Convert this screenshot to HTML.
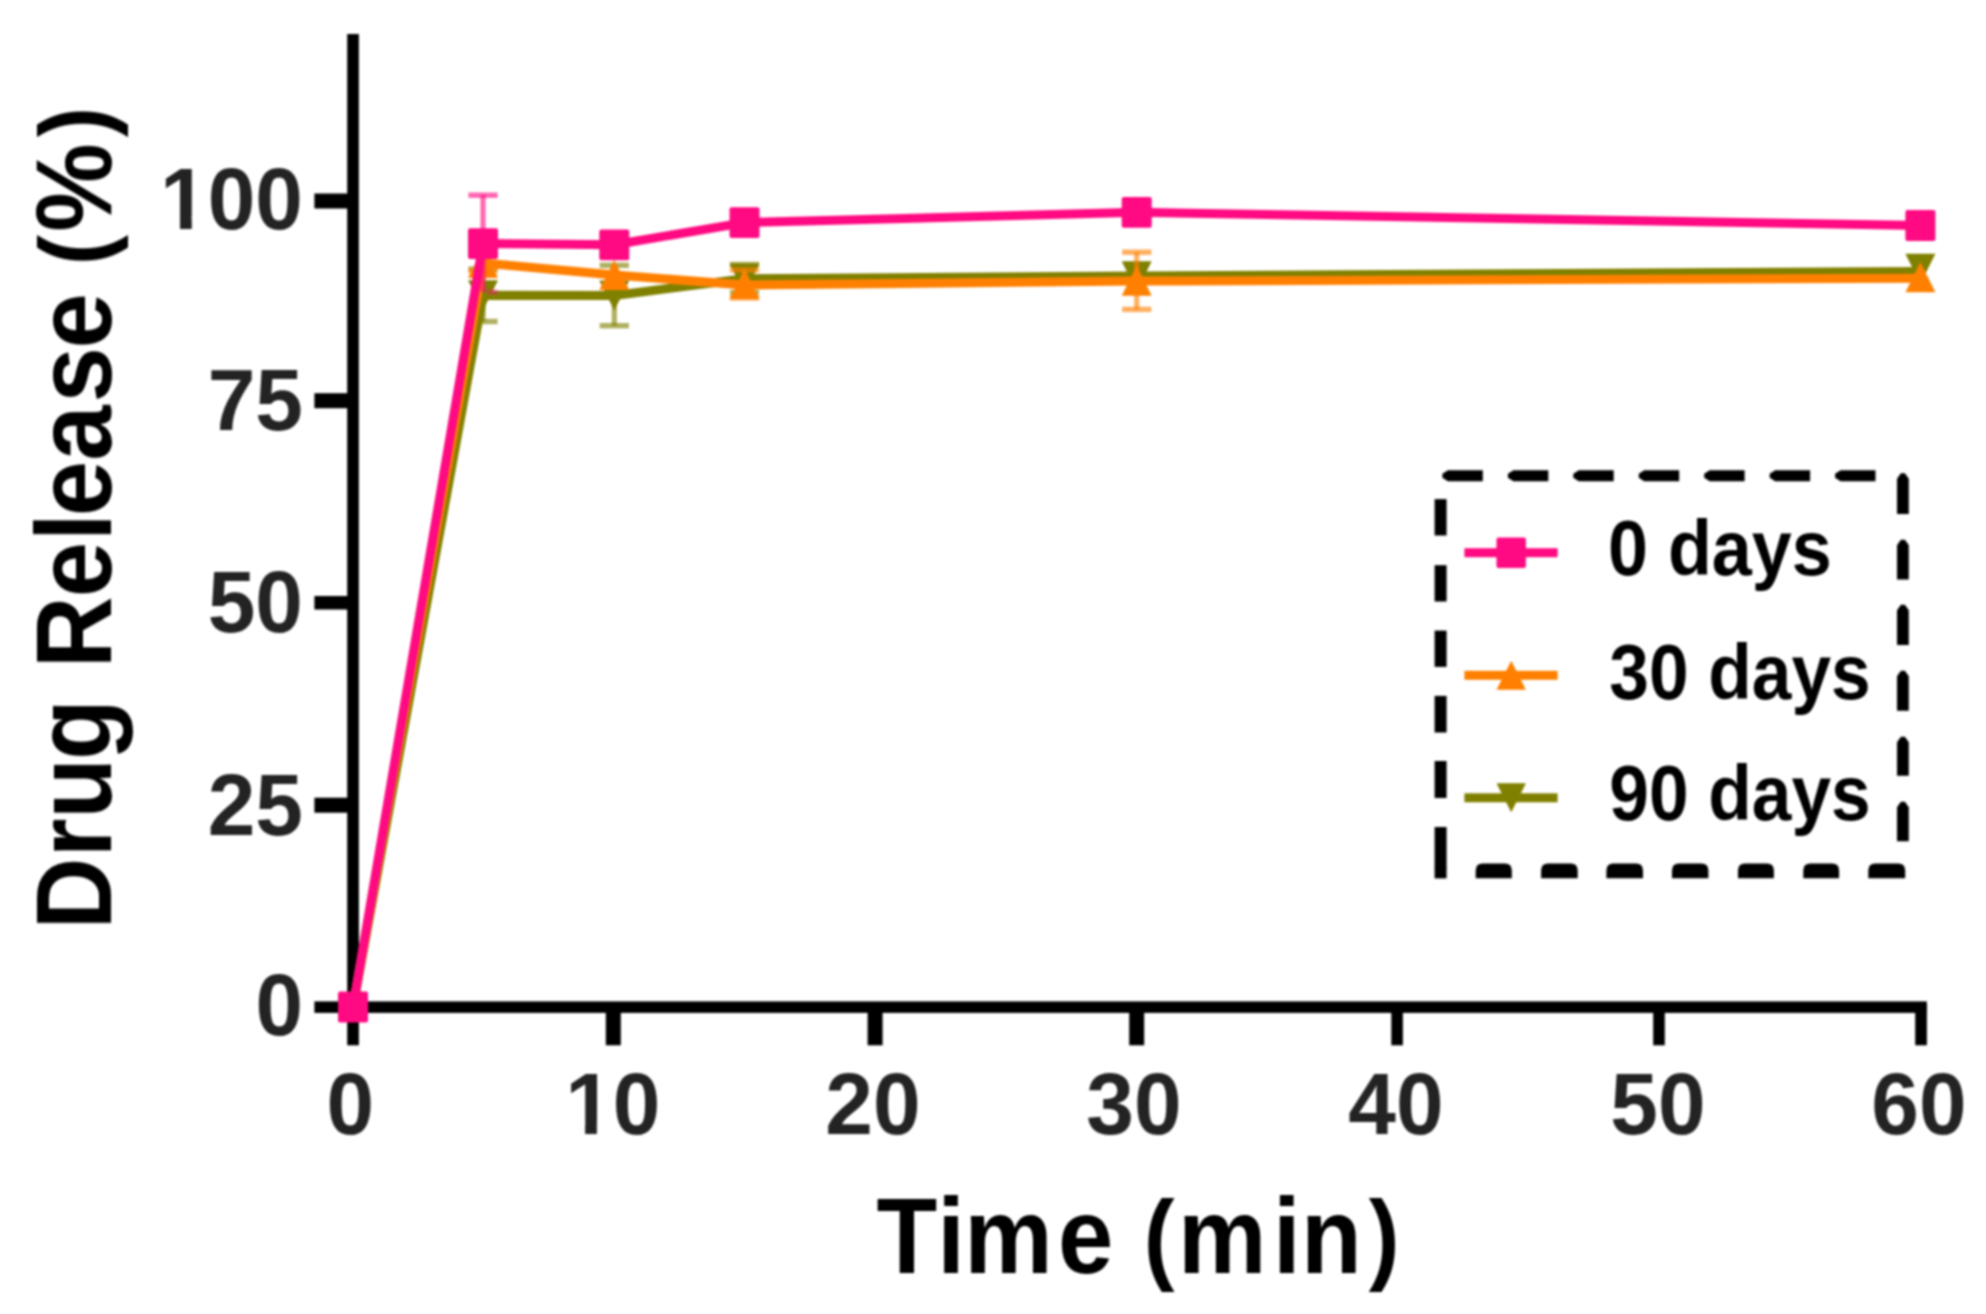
<!DOCTYPE html>
<html lang="en">
<head>
<meta charset="utf-8">
<title>Drug Release (%) vs Time (min)</title>
<style>
html,body{margin:0;padding:0;background:#fff;}
body{width:1986px;height:1314px;overflow:hidden;}
svg{display:block;}
text{font-family:"Liberation Sans",Arial,Helvetica,sans-serif;font-weight:700;}
.tick{font-size:87px;fill:#232323;}
.title{font-size:107px;fill:#000;}
.par{font-size:98px;}
.par2{font-size:99.5px;}
.leg{font-size:77px;fill:#000;}
</style>
</head>
<body>
<svg width="1986" height="1314">
<defs><filter id="soft" filterUnits="userSpaceOnUse" x="0" y="0" width="1986" height="1314" color-interpolation-filters="sRGB"><feGaussianBlur stdDeviation="1.1"/></filter></defs>
<rect x="0" y="0" width="1986" height="1314" fill="#ffffff"/>
<g filter="url(#soft)">

<g fill="#000">
<rect x="347.2" y="34" width="11.7" height="1011.3"/>
<rect x="314.4" y="1001.4" width="1612.5" height="11.5"/>
<rect x="314.4" y="193.5" width="36" height="15"/>
<rect x="314.4" y="393.2" width="36" height="15"/>
<rect x="314.4" y="596.0" width="36" height="13.5"/>
<rect x="314.4" y="797.7" width="36" height="15"/>
<rect x="605.8" y="1005" width="15" height="40.3"/>
<rect x="867.6" y="1005" width="15" height="40.3"/>
<rect x="1129.2" y="1005" width="15" height="40.3"/>
<rect x="1391.3" y="1005" width="11.6" height="40.3"/>
<rect x="1653.2" y="1005" width="11.6" height="40.3"/>
<rect x="1915.2" y="1005" width="11.7" height="40.3"/>
</g>
<g class="tick" text-anchor="end">
<text x="303" y="229.2" textLength="142.9" lengthAdjust="spacingAndGlyphs">100</text>
<text x="303" y="430.2" textLength="95.3" lengthAdjust="spacingAndGlyphs">75</text>
<text x="303" y="632.3" textLength="95.3" lengthAdjust="spacingAndGlyphs">50</text>
<text x="303" y="834.7" textLength="95.3" lengthAdjust="spacingAndGlyphs">25</text>
<text x="303" y="1034.5" textLength="47.6" lengthAdjust="spacingAndGlyphs">0</text>
</g>
<g class="tick" text-anchor="middle">
<text x="350.4" y="1133.8" textLength="47.6" lengthAdjust="spacingAndGlyphs">0</text>
<text x="612.8" y="1133.8" textLength="95.3" lengthAdjust="spacingAndGlyphs">10</text>
<text x="873" y="1133.8" textLength="95.3" lengthAdjust="spacingAndGlyphs">20</text>
<text x="1134" y="1133.8" textLength="95.3" lengthAdjust="spacingAndGlyphs">30</text>
<text x="1396" y="1133.8" textLength="95.3" lengthAdjust="spacingAndGlyphs">40</text>
<text x="1658" y="1133.8" textLength="95.3" lengthAdjust="spacingAndGlyphs">50</text>
<text x="1919" y="1133.8" textLength="95.3" lengthAdjust="spacingAndGlyphs">60</text>
</g>
<rect x="164.2" y="216.5" width="15.8" height="14.2" fill="#fff"/>
<rect x="191.8" y="216.5" width="14.7" height="14.2" fill="#fff"/>
<rect x="569.3" y="1121.1" width="15.8" height="14.2" fill="#fff"/>
<rect x="596.9" y="1121.1" width="14.7" height="14.2" fill="#fff"/>
<text class="title" transform="translate(800.0,1273) scale(0.93,1)" x="82.2 147.5 176.7 277.4 307.4 369.6 406.4 508.6 538.7 611.7">Time <tspan class="par2" dy="-2.4">(</tspan><tspan dy="2.4">min</tspan><tspan class="par2" dy="-2.4">)</tspan></text>
<text class="title" transform="translate(111,960.0) rotate(-90) scale(0.93,1)" x="32.7 110.5 151.9 215.2 245.2 313.7 390.1 450.6 477.3 536.8 599.4 657.5 687.5 747.1 783.2 884.8">Drug Release <tspan class="par" dy="-3.2">(</tspan><tspan dy="3.2">%</tspan><tspan class="par" dy="-3.2">)</tspan></text>
<g fill="#808000" stroke="none">
<rect x="480.4" y="269.1" width="5.2" height="52.4" opacity="0.62"/>
<rect x="468.4" y="266.4" width="29.2" height="5.4" opacity="0.62"/>
<rect x="468.4" y="318.8" width="29.2" height="5.4" opacity="0.62"/>
<rect x="611.7" y="265.3" width="5.2" height="60.4" opacity="0.62"/>
<rect x="599.7" y="262.6" width="29.2" height="5.4" opacity="0.62"/>
<rect x="599.7" y="323.0" width="29.2" height="5.4" opacity="0.62"/>
<rect x="741.9" y="264.5" width="5.2" height="28.0" opacity="0.62"/>
<rect x="729.9" y="261.8" width="29.2" height="5.4" opacity="0.62"/>
<rect x="729.9" y="289.8" width="29.2" height="5.4" opacity="0.62"/>
<polyline points="353.0,1007.0 483.0,295.3 614.3,295.5 744.5,278.7 1136.7,276.0 1920.4,271.4" fill="none" stroke="#808000" stroke-width="9" stroke-linejoin="round"/>
<polygon points="468.0,280.3 498.0,280.3 483.0,310.3"/>
<polygon points="599.3,280.5 629.3,280.5 614.3,310.5"/>
<polygon points="729.5,263.5 759.5,263.5 744.5,293.5"/>
<polygon points="1121.7,261.3 1151.7,261.3 1136.7,291.3"/>
<polygon points="1905.4,253.8 1935.4,253.8 1920.4,283.8"/>
</g>
<g fill="#ff8000" stroke="none">
<rect x="480.4" y="255.0" width="5.2" height="16.0" opacity="0.62"/>
<rect x="468.4" y="252.3" width="29.2" height="5.4" opacity="0.62"/>
<rect x="468.4" y="268.3" width="29.2" height="5.4" opacity="0.62"/>
<rect x="741.9" y="270.0" width="5.2" height="28.0" opacity="0.62"/>
<rect x="729.9" y="267.3" width="29.2" height="5.4" opacity="0.62"/>
<rect x="729.9" y="295.3" width="29.2" height="5.4" opacity="0.62"/>
<rect x="1134.1" y="252.2" width="5.2" height="57.2" opacity="0.62"/>
<rect x="1122.1" y="249.5" width="29.2" height="5.4" opacity="0.62"/>
<rect x="1122.1" y="306.7" width="29.2" height="5.4" opacity="0.62"/>
<polyline points="353.0,1007.0 483.0,263.0 614.3,275.0 744.5,285.0 1136.7,281.1 1920.4,278.2" fill="none" stroke="#ff8000" stroke-width="9" stroke-linejoin="round"/>
<polygon points="483.0,248.0 498.0,278.0 468.0,278.0"/>
<polygon points="614.3,260.0 629.3,290.0 599.3,290.0"/>
<polygon points="744.5,269.0 759.5,299.0 729.5,299.0"/>
<polygon points="1136.7,265.8 1151.7,295.8 1121.7,295.8"/>
<polygon points="1920.4,262.3 1935.4,292.3 1905.4,292.3"/>
</g>
<g fill="#ff0a82" stroke="none">
<rect x="480.4" y="195.2" width="5.2" height="96.8" opacity="0.62"/>
<rect x="468.4" y="192.5" width="29.2" height="5.4" opacity="0.62"/>
<rect x="487.0" y="289.3" width="10.6" height="5.4" opacity="0.4"/>
<polyline points="353.0,1007.0 483.0,243.6 614.3,244.8 744.5,222.6 1136.7,212.3 1920.4,225.5" fill="none" stroke="#ff0a82" stroke-width="9" stroke-linejoin="round"/>
<rect x="338.0" y="991.6" width="30" height="30.8" rx="2"/>
<rect x="468.0" y="228.2" width="30" height="30.8" rx="2"/>
<rect x="599.3" y="229.4" width="30" height="30.8" rx="2"/>
<rect x="729.5" y="207.2" width="30" height="30.8" rx="2"/>
<rect x="1121.7" y="196.9" width="30" height="30.8" rx="2"/>
<rect x="1905.4" y="210.1" width="30" height="30.8" rx="2"/>
</g>
<g fill="#000">
<polygon points="1442.4,473.8 1447.9,470.3 1482.8,470.3 1482.8,481.3 1447.9,481.3 1442.4,477.8"/>
<polygon points="1507.9,473.8 1513.4,470.3 1548.3,470.3 1548.3,481.3 1513.4,481.3 1507.9,477.8"/>
<polygon points="1573.3,473.8 1578.8,470.3 1613.7,470.3 1613.7,481.3 1578.8,481.3 1573.3,477.8"/>
<polygon points="1638.8,473.8 1644.2,470.3 1679.2,470.3 1679.2,481.3 1644.2,481.3 1638.8,477.8"/>
<polygon points="1704.2,473.8 1709.7,470.3 1744.6,470.3 1744.6,481.3 1709.7,481.3 1704.2,477.8"/>
<polygon points="1769.7,473.8 1775.2,470.3 1810.1,470.3 1810.1,481.3 1775.2,481.3 1769.7,477.8"/>
<polygon points="1835.1,473.8 1840.6,470.3 1875.5,470.3 1875.5,481.3 1840.6,481.3 1835.1,477.8"/>
<polygon points="1900.9,473.3 1897.0,478.8 1897.0,514 1908.8,514 1908.8,478.8 1904.9,473.3"/>
<polygon points="1900.9,539.7 1897.0,545.2 1897.0,579.4 1908.8,579.4 1908.8,545.2 1904.9,539.7"/>
<polygon points="1900.9,604.7 1897.0,610.2 1897.0,645.1 1908.8,645.1 1908.8,610.2 1904.9,604.7"/>
<polygon points="1900.9,670.7 1897.0,676.2 1897.0,710.8 1908.8,710.8 1908.8,676.2 1904.9,670.7"/>
<polygon points="1900.9,736.8 1897.0,742.3 1897.0,775.8 1908.8,775.8 1908.8,742.3 1904.9,736.8"/>
<polygon points="1900.9,801.8 1897.0,807.3 1897.0,841.2 1908.8,841.2 1908.8,807.3 1904.9,801.8"/>
<path d="M1868.3,878.2 L1868.3,870.5 Q1868.3,863.6 1875.3,863.6 L1898.2,863.6 Q1905.2,863.6 1905.2,870.5 L1905.2,878.2 Z"/>
<path d="M1803.3,878.2 L1803.3,870.5 Q1803.3,863.6 1810.3,863.6 L1832.1,863.6 Q1839.1,863.6 1839.1,870.5 L1839.1,878.2 Z"/>
<path d="M1738,878.2 L1738,870.5 Q1738,863.6 1745.0,863.6 L1766.9,863.6 Q1773.9,863.6 1773.9,870.5 L1773.9,878.2 Z"/>
<path d="M1672.0,878.2 L1672.0,870.5 Q1672.0,863.6 1679.0,863.6 L1701.4,863.6 Q1708.4,863.6 1708.4,870.5 L1708.4,878.2 Z"/>
<path d="M1606.4,878.2 L1606.4,870.5 Q1606.4,863.6 1613.4,863.6 L1636.0,863.6 Q1643.0,863.6 1643.0,870.5 L1643.0,878.2 Z"/>
<path d="M1541.1,878.2 L1541.1,870.5 Q1541.1,863.6 1548.1,863.6 L1570.7,863.6 Q1577.7,863.6 1577.7,870.5 L1577.7,878.2 Z"/>
<path d="M1475.7,878.2 L1475.7,870.5 Q1475.7,863.6 1482.7,863.6 L1504.8,863.6 Q1511.8,863.6 1511.8,870.5 L1511.8,878.2 Z"/>
<rect x="1434.6" y="867.8" width="12" height="10.6"/>
<rect x="1434.6" y="499.1" width="12" height="36.4"/>
<rect x="1434.6" y="565.2" width="12" height="36.3"/>
<rect x="1434.6" y="630.6" width="12" height="36.3"/>
<rect x="1434.6" y="695.9" width="12" height="36.6"/>
<rect x="1434.6" y="761" width="12" height="37"/>
<rect x="1434.6" y="827" width="12" height="41.5"/>
</g>
<rect x="1464.4" y="548.2" width="93.2" height="9" fill="#ff0a82"/>
<rect x="1496.5" y="537.4" width="29.4" height="30.6" rx="2" fill="#ff0a82"/>
<text class="leg" x="1608" y="575.4" textLength="223.8" lengthAdjust="spacingAndGlyphs">0 days</text>
<rect x="1464.4" y="670.8" width="93.2" height="9" fill="#ff8000"/>
<polygon points="1511.2,660.8 1525.9,689.8 1496.5,689.8" fill="#ff8000"/>
<text class="leg" x="1609.3" y="698.5" textLength="261.3" lengthAdjust="spacingAndGlyphs">30 days</text>
<rect x="1464.4" y="793.3" width="93.2" height="9" fill="#808000"/>
<polygon points="1496.5,783.3 1525.9,783.3 1511.2,812.3" fill="#808000"/>
<text class="leg" x="1609.3" y="820.0" textLength="261.3" lengthAdjust="spacingAndGlyphs">90 days</text>
</g>
</svg>
</body>
</html>
